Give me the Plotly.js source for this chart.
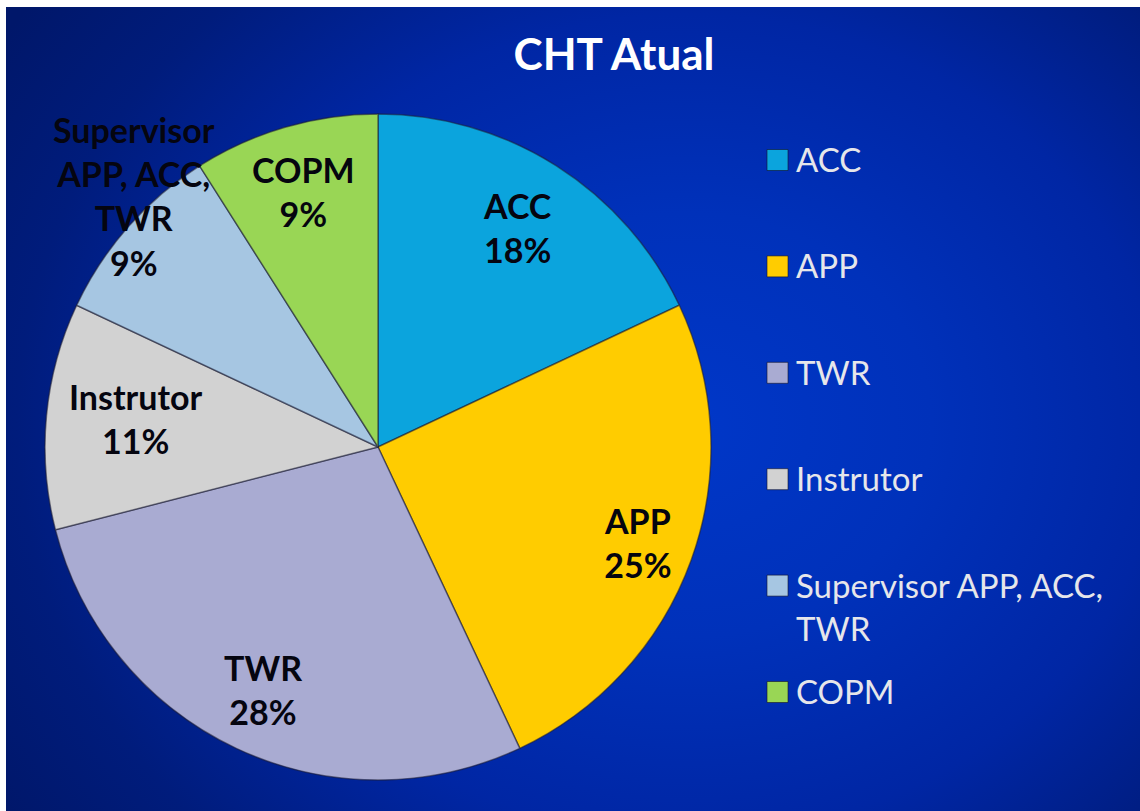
<!DOCTYPE html>
<html>
<head>
<meta charset="utf-8">
<script src="https://cdn.plot.ly/plotly-3.0.1.min.js"></script>
<style>
  html, body { margin:0; padding:0; background:#ffffff; width:1140px; height:811px; overflow:hidden; }
  #bg { position:absolute; left:6px; top:7px; width:1134px; height:804px;
        background: radial-gradient(ellipse 72% 88% at 60% 52%, #0037c8 0%, #0031ba 30%, #0026a4 58%, #001c7c 82%, #00176a 100%); }
  #chart { position:absolute; left:0; top:0; width:1140px; height:811px; }
</style>
</head>
<body>
<div id="bg"></div>
<div id="chart"></div>
<script>
// ---- data ----
const titleText = "CHT Atual";
const labels = ["ACC", "APP", "TWR", "Instrutor", "Supervisor APP, ACC, TWR", "COPM"];
const values = [18, 25, 28, 11, 9, 9];
const colors = ["#0ba4dd", "#ffcc00", "#a9abd2", "#d2d2d2", "#a6c6e2", "#99d655"];

// ---- layout constants (styles / positions) ----
const W = 1140, H = 811;
const cx = 378, cy = 447, R = 333;           // pie centre & radius in px
const labelR = [0.78, 0.83, 0.81, 0.73, 1.05, 0.80]; // label distance factor per slice
const labelNudge = [[0,0],[0,2],[0,-2],[0,-6],[18,-20],[0,0]];
const legendX = 767, legendTop = 160, legendStep = 106.4, sq = 21;

function wrap(s, maxChars) {
  const words = s.split(" ");
  const lines = []; let cur = "";
  words.forEach(w => {
    if (!cur) cur = w;
    else if ((cur + " " + w).length <= maxChars) cur += " " + w;
    else { lines.push(cur); cur = w; }
  });
  if (cur) lines.push(cur);
  return lines;
}

const total = values.reduce((a, b) => a + b, 0);

const trace = {
  type: "pie",
  labels: labels,
  values: values,
  sort: false,
  direction: "clockwise",
  rotation: 0,
  textinfo: "none",
  hoverinfo: "label+percent",
  showlegend: false,
  marker: { colors: colors, line: { color: "rgba(30,30,50,0.55)", width: 1.5 } },
  domain: { x: [(cx - R) / W, (cx + R) / W], y: [1 - (cy + R) / H, 1 - (cy - R) / H] }
};

const annotations = [];
const shapes = [];
let cum = 0;
values.forEach((v, i) => {
  const theta = 2 * Math.PI * (cum + v / 2) / total;
  cum += v;
  const px = cx + R * labelR[i] * Math.sin(theta) + labelNudge[i][0];
  const py = cy - R * labelR[i] * Math.cos(theta) + labelNudge[i][1];
  const pct = Math.round(100 * v / total) + "%";
  annotations.push({
    xref: "paper", yref: "paper", x: px / W, y: 1 - py / H,
    xanchor: "center", yanchor: "middle", showarrow: false,
    text: wrap(labels[i], 10).concat([pct]).join("<br>"),
    font: { family: "Lato", size: 34, color: "#05050f", weight: 700 },
    align: "center"
  });
  // legend entry
  const ly = legendTop + i * legendStep;
  shapes.push({
    type: "rect", xref: "paper", yref: "paper",
    x0: legendX / W, x1: (legendX + sq) / W,
    y0: 1 - (ly + sq / 2) / H, y1: 1 - (ly - sq / 2) / H,
    fillcolor: colors[i], line: { color: "rgba(20,20,40,0.6)", width: 1 }
  });
  annotations.push({
    xref: "paper", yref: "paper", x: (legendX + sq + 6) / W, y: 1 - (ly - 23) / H,
    xanchor: "left", yanchor: "top", showarrow: false, align: "left",
    text: wrap(labels[i], 20).join("<br>"),
    font: { family: "Lato", size: 33, color: "#e6e6ea" }
  });
});

const layout = {
  width: W, height: H,
  margin: { l: 0, r: 0, t: 0, b: 0 },
  paper_bgcolor: "rgba(0,0,0,0)",
  plot_bgcolor: "rgba(0,0,0,0)",
  showlegend: false,
  title: {
    text: "<b>" + titleText + "</b>",
    x: 614 / W, xanchor: "center",
    y: 1 - 55 / H, yanchor: "middle",
    font: { family: "Lato", size: 44, color: "#ffffff" }
  },
  annotations: annotations,
  shapes: shapes
};

Plotly.newPlot("chart", [trace], layout, { displayModeBar: false, staticPlot: true });
</script>
</body>
</html>
